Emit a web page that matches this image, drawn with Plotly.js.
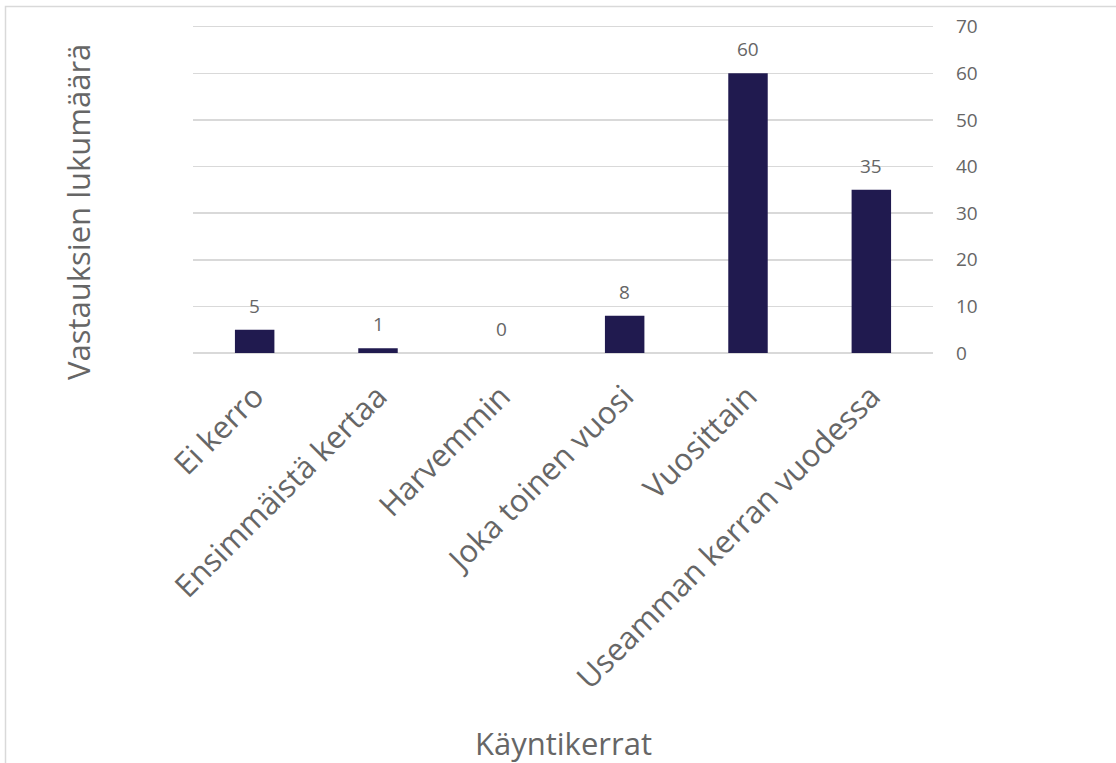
<!DOCTYPE html>
<html>
<head>
<meta charset="utf-8">
<script src="https://cdn.plot.ly/plotly-3.0.1.min.js"></script>
<style>
html,body{margin:0;padding:0;background:#fff;}
#chart{width:1116px;height:763px;}
</style>
</head>
<body>
<div id="chart"></div>
<script>
const categories = ["Ei kerro", "Ensimmäistä kertaa", "Harvemmin", "Joka toinen vuosi", "Vuosittain", "Useamman kerran vuodessa"];
const values = [5, 1, 0, 8, 60, 35];
const yTicks = [0, 10, 20, 30, 40, 50, 60, 70];
const xTitle = "Käyntikerrat";
const yTitle = "Vastauksien lukumäärä";

const fontFam = "'Open Sans', 'Noto Sans', sans-serif";
const gray = "#666666";

const trace = {
  type: "bar",
  x: categories,
  y: values,
  marker: {color: "#201a4f"},
  width: 0.32,
  hoverinfo: "x+y"
};

// plot area: top margin 22, height 331 (0 at y=353, 71 at top)
const plotTop = 22, plotH = 331, zeroY = plotTop + plotH;

const annotations = categories.map((c, i) => ({
  x: c, y: values[i], xref: "x", yref: "y",
  text: String(values[i]), showarrow: false,
  yanchor: "bottom", yshift: 9,
  font: {family: fontFam, size: 19, color: gray}
}));
annotations.push({
  xref: "paper", yref: "paper", x: (78 - 193) / 740, y: (zeroY - 212) / plotH,
  text: yTitle, showarrow: false, textangle: -90,
  xanchor: "center", yanchor: "middle",
  font: {family: fontFam, size: 31, color: gray}
});
annotations.push({
  xref: "paper", yref: "paper", x: 0.5, y: (zeroY - 743) / plotH,
  text: xTitle, showarrow: false,
  xanchor: "center", yanchor: "middle",
  font: {family: fontFam, size: 31, color: gray}
});

const layout = {
  width: 1116, height: 763,
  margin: {l: 193, r: 183, t: plotTop, b: 763 - zeroY},
  paper_bgcolor: "#fff", plot_bgcolor: "#fff",
  showlegend: false,
  font: {family: fontFam, color: gray},
  xaxis: {
    type: "category",
    tickangle: -45,
    tickfont: {family: fontFam, size: 31, color: gray},
    showgrid: false, zeroline: false, showline: false, ticks: "",
    ticklabelstandoff: 18
  },
  yaxis: {
    side: "right",
    range: [0, 71],
    tickvals: yTicks,
    ticktext: yTicks.map(String),
    tickfont: {family: fontFam, size: 19, color: gray},
    gridcolor: "#d9d9d9", gridwidth: 1.5,
    zeroline: true, zerolinecolor: "#d9d9d9", zerolinewidth: 1.5,
    showline: false, ticks: "",
    ticklabelstandoff: 22
  },
  annotations: annotations,
  shapes: [{
    type: "rect", xref: "paper", yref: "paper",
    x0: (5.5 - 193) / 740, x1: 1.5,
    y0: -1.5, y1: (zeroY - 6.5) / plotH,
    line: {color: "#d9d9d9", width: 1.5}, layer: "below"
  }]
};

Plotly.newPlot("chart", [trace], layout, {displayModeBar: false, staticPlot: true});
</script>
</body>
</html>
